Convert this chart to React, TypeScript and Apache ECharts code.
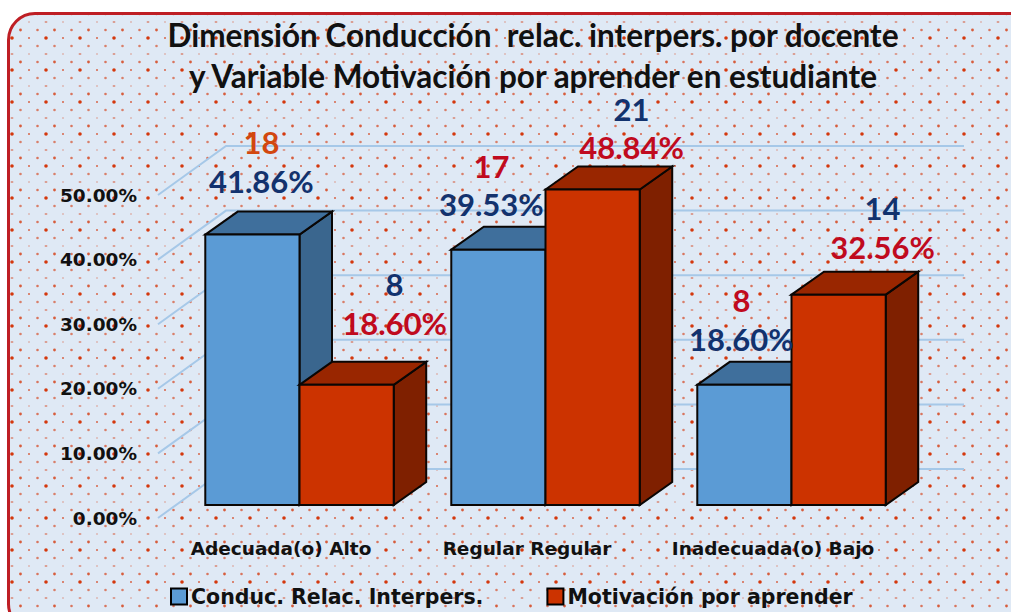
import React, { useEffect, useRef } from "react";
import * as echarts from "echarts";

const titleText = "Dimensión Conducción  relac. interpers. por docente\ny Variable Motivación por aprender en estudiante";
const categories = ["Adecuada(o) Alto", "Regular Regular", "Inadecuada(o) Bajo"];
const seriesNames = ["Conduc. Relac. Interpers.", "Motivación por aprender"];
const conducValues = [41.86, 39.53, 18.6];
const motivValues = [18.6, 48.84, 32.56];
const conducCounts = [18, 17, 8];
const motivCounts = [8, 21, 14];
const gridTicks = [0, 10, 20, 30, 40, 50];

const conducCountColors = ["#D2470F", "#C00A1E", "#C00A1E"];
const conducPctColors = ["#12326E", "#12326E", "#12326E"];
const motivCountColors = ["#12326E", "#12326E", "#12326E"];
const motivPctColors = ["#C00A1E", "#C00A1E", "#C00A1E"];

// label nudges relative to each bar's top centre: [dx, pctDy, countDy]
const conducNudges = [[9, -54, -93], [-7, -46, -84], [-3, -46, -85]];
const motivNudges = [[48, -62, -101], [39, -42, -80], [44, -48, -87]];

const WALL_DX = 68, WALL_DY = -49;
const BAR_SHIFT_X = 18.5, BAR_SHIFT_Y = -13;
const DEPTH_X = 32.5, DEPTH_Y = -23;
const BAR_FRAC = 0.383;

const pctFont = "Lato";
const tickFont = "DejaVu Sans";

const tile = `<svg xmlns='http://www.w3.org/2000/svg' width='34' height='32'><g fill='#D4380D'>
<circle cx='0' cy='0' r='1.8'/><circle cx='34' cy='0' r='1.8'/><circle cx='0' cy='32' r='1.8'/><circle cx='34' cy='32' r='1.8'/>
<circle cx='17' cy='0' r='1' opacity='.75'/><circle cx='17' cy='32' r='1' opacity='.75'/>
<circle cx='8.5' cy='8' r='1.3' opacity='.6'/><circle cx='25.5' cy='8' r='1.3' opacity='.6'/>
<ellipse cx='0' cy='16' rx='1.5' ry='0.8' opacity='.65'/><ellipse cx='34' cy='16' rx='1.5' ry='0.8' opacity='.65'/><circle cx='17' cy='16' r='.8' opacity='.5'/>
<circle cx='8.5' cy='24' r='1.4' opacity='.8'/><circle cx='25.5' cy='24' r='1.3' opacity='.65'/>
</g></svg>`;

function barSeries(
  name: string,
  values: number[],
  counts: number[],
  side: 0 | 1,
  colors: { front: string; top: string; side: string },
  nudges: number[][],
  countColors: string[],
  pctColors: string[]
) {
  return {
    type: "custom",
    name,
    coordinateSystem: "cartesian2d",
    encode: { x: 0, y: 1 },
    itemStyle: { color: colors.front, borderColor: "#000", borderWidth: 2 },
    z: 3,
    data: values.map((v, i) => [i, v]),
    renderItem: (_p: any, api: any) => {
      const i = api.value(0);
      const v = api.value(1);
      const w = api.size([1, 0])[0] * BAR_FRAC;
      const top = api.coord([i, v]);
      const base = api.coord([i, 0]);
      const x0 = top[0] + BAR_SHIFT_X + (side === 0 ? -w : 0);
      const x1 = x0 + w;
      const yT = top[1] + BAR_SHIFT_Y;
      const yB = base[1] + BAR_SHIFT_Y;
      const stroke = { stroke: "#0A0604", lineWidth: 2, lineJoin: "miter" };
      const cx = (x0 + x1) / 2;
      const [ndx, pctDy, countDy] = nudges[i];
      return {
        type: "group",
        children: [
          {
            type: "polygon",
            shape: { points: [[x1, yT], [x1 + DEPTH_X, yT + DEPTH_Y], [x1 + DEPTH_X, yB + DEPTH_Y], [x1, yB]] },
            style: { fill: colors.side, ...stroke },
          },
          {
            type: "polygon",
            shape: { points: [[x0, yT], [x0 + DEPTH_X, yT + DEPTH_Y], [x1 + DEPTH_X, yT + DEPTH_Y], [x1, yT]] },
            style: { fill: colors.top, ...stroke },
          },
          {
            type: "rect",
            shape: { x: x0, y: yT, width: w, height: yB - yT },
            style: { fill: colors.front, ...stroke },
          },
          {
            type: "text",
            z2: 20,
            style: {
              text: v.toFixed(2) + "%",
              x: cx + ndx,
              y: yT + pctDy,
              align: "center",
              verticalAlign: "middle",
              fill: pctColors[i],
              font: `bold 31px ${pctFont}`,
            },
          },
          {
            type: "text",
            z2: 20,
            style: {
              text: String(counts[i]),
              x: cx + ndx,
              y: yT + countDy,
              align: "center",
              verticalAlign: "middle",
              fill: countColors[i],
              font: `bold 31px ${pctFont}`,
            },
          },
        ],
      };
    },
  };
}

export default function App() {
  const ref = useRef<HTMLDivElement>(null);
  useEffect(() => {
    const chart = echarts.init(ref.current!, undefined, { renderer: "svg" });
    chart.setOption({
      animation: false,
      backgroundColor: "transparent",
      title: {
        text: titleText,
        left: 528,
        top: 9,
        textAlign: "center",
        textStyle: { fontFamily: pctFont, fontWeight: "bold", fontSize: 31.5, lineHeight: 41, color: "#111", align: "center" },
      },
      legend: {
        data: seriesNames,
        left: 165,
        top: 581,
        icon: "rect",
        itemWidth: 16,
        itemHeight: 16,
        itemGap: 63,
        itemStyle: { borderColor: "#000", borderWidth: 2 },
        textStyle: { fontFamily: tickFont, fontWeight: "bold", fontSize: 20.5, color: "#111", padding: [0, 0, 0, -1] },
      },
      grid: { left: 158, top: 195, width: 738, height: 323 },
      xAxis: {
        type: "category",
        data: categories,
        axisLine: { show: false },
        axisTick: { show: false },
        axisLabel: { margin: 21, interval: 0, hideOverlap: false, color: "#111", fontFamily: tickFont, fontWeight: "bold", fontSize: 18.5 },
      },
      yAxis: {
        type: "value",
        min: 0,
        max: 50,
        interval: 10,
        axisLine: { show: false },
        axisTick: { show: false },
        splitLine: { show: false },
        axisLabel: {
          margin: 21,
          color: "#111",
          fontFamily: tickFont,
          fontWeight: "bold",
          fontSize: 18.5,
          formatter: (v: number) => v.toFixed(2) + "%",
        },
      },
      series: [
        {
          type: "custom",
          coordinateSystem: "cartesian2d",
          encode: { x: 0, y: 1 },
          silent: true,
          z: 1,
          data: gridTicks.map((t) => [0, t]),
          renderItem: (p: any, api: any) => {
            const y = api.coord([0, api.value(1)])[1];
            const { x, width } = p.coordSys;
            return {
              type: "polyline",
              shape: { points: [[x, y], [x + WALL_DX, y + WALL_DY], [x + width + WALL_DX, y + WALL_DY]] },
              style: { fill: "none", stroke: "#A6C8E8", lineWidth: 2 },
            };
          },
        },
        barSeries(seriesNames[0], conducValues, conducCounts, 0,
          { front: "#5B9BD5", top: "#3F6F9C", side: "#3A668E" }, conducNudges, conducCountColors, conducPctColors),
        barSeries(seriesNames[1], motivValues, motivCounts, 1,
          { front: "#CC3300", top: "#992600", side: "#7F2000" }, motivNudges, motivCountColors, motivPctColors),
      ],
    });
    return () => chart.dispose();
  }, []);

  return (
    <div style={{ position: "fixed", left: 0, top: 0, width: 1011, height: 612, overflow: "hidden", background: "#fff" }}>
      <div
        style={{
          position: "absolute",
          left: 7,
          top: 12,
          width: 1030,
          height: 620,
          boxSizing: "border-box",
          border: "3px solid #BE1E24",
          borderRadius: 28,
          backgroundColor: "#DFE9F5",
          backgroundImage: `url("data:image/svg+xml,${encodeURIComponent(tile)}")`,
          backgroundPosition: "2px -9px",
        }}
      />
      <div ref={ref} style={{ position: "absolute", left: 0, top: 0, width: 1011, height: 612 }} />
    </div>
  );
}
